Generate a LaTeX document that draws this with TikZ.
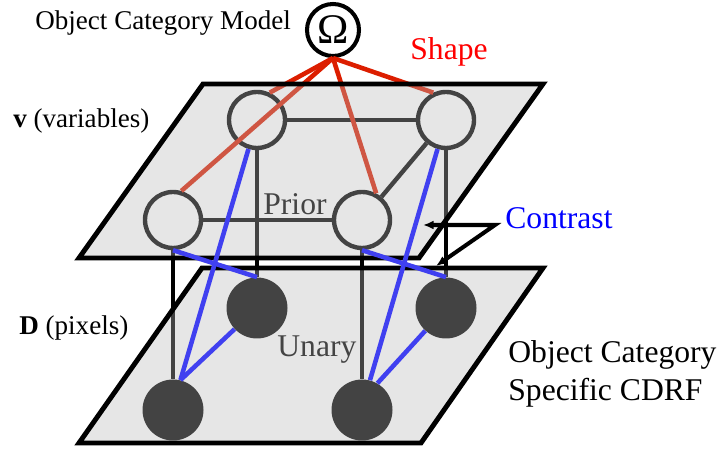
\documentclass[tikz,border=0pt]{standalone}
\usepackage{fontspec}
\setmainfont{Liberation Serif}
\usetikzlibrary{arrows.meta}
\definecolor{edgered}{RGB}{220,30,0}
\definecolor{edgeblue}{RGB}{64,64,240}
\definecolor{planegray}{RGB}{186,186,186}
\definecolor{labelgray}{RGB}{68,68,68}

\begin{document}
\begin{tikzpicture}[
    var/.style={draw=black, line width=2.5pt, circle, minimum size=1.12cm, inner sep=0pt},
    pix/.style={fill=black, circle, minimum size=1.22cm, inner sep=0pt},
    priorline/.style={draw=black, line width=2.5pt},
    shapeline/.style={draw=edgered, line width=2.6pt},
    contrastline/.style={draw=edgeblue, line width=2.6pt},
    plane/.style={draw=black, line width=2.8pt, fill=planegray, fill opacity=0.365, line join=miter},
    lbl/.style={inner sep=0pt, anchor=base west},
    small/.style={font=\fontsize{15.4}{18}\selectfont},
    big/.style={font=\fontsize{18}{21.5}\selectfont}
]
            \useasboundingbox (0.00,0.00) rectangle (14.40,8.98);
            % variables (upper plane)
            \node[var] (vbl) at (5.14,6.58) {};
            \node[var] (vbr) at (8.92,6.58) {};
            \node[var] (vfl) at (3.46,4.58) {};
            \node[var] (vfr) at (7.24,4.58) {};
            % pixels (lower plane)
            \node[pix] (dbl) at (5.14,2.82) {};
            \node[pix] (dbr) at (8.92,2.82) {};
            \node[pix] (dfl) at (3.46,0.78) {};
            \node[pix] (dfr) at (7.24,0.78) {};
            \draw[priorline] (vbl) -- (vbr);
            \draw[priorline] (vfl) -- (vfr);
            \draw[priorline] (vbr) -- (vfr);
            \draw[priorline] (vbl) -- (dbl);
            \draw[priorline] (vbr) -- (dbr);
            \draw[priorline] (vfl) -- (dfl);
            \draw[priorline] (vfr) -- (dfr);
            % model
            \node[draw=black, fill=white, line width=2.3pt, circle, minimum size=1.04cm, inner sep=0pt, font=\fontsize{24}{26}\selectfont] (om) at (6.66,8.38) {Ω};
            \draw[shapeline] (om.south) -- (vbl.65);
            \draw[shapeline] (om.south) -- (vfl.74);
            \draw[shapeline] (om.south) -- (vfr.62);
            \draw[shapeline] (om.south) -- (vbr.115);
            % planes
            \draw[plane] (4.06,7.30) -- (10.86,7.30) -- (8.38,3.82) -- (1.58,3.82) -- cycle;
            \draw[plane] (4.04,3.62) -- (10.86,3.62) -- (8.42,0.12) -- (1.58,0.12) -- cycle;
            % contrast
            \draw[contrastline] (vbl) -- (dfl.76);
            \draw[contrastline] (dbl) -- (dfl.76);
            \draw[contrastline] (vfl.south) -- (dbl.north);
            \draw[contrastline] (vbr) -- (dfr.75);
            \draw[contrastline] (dbr) -- (dfr.60);
            \draw[contrastline] (vfr.south) -- (dbr.north);
            \coordinate (cfork) at (9.90,4.48);
            \coordinate (ctop) at (8.46,4.48);
            \coordinate (cbot) at (8.72,3.66);
            \draw[draw=black, line width=2.3pt, line join=miter, {Latex[length=6pt,width=5pt]}-{Latex[length=6pt,width=5pt]}] (ctop) -- (cfork) -- (cbot);
            % labels
            \node[lbl, small] (nmodel) at (0.70,8.38) {Object Category Model};
            \node[lbl, small] (nvar) at (0.26,6.42) {\textbf{v} (variables)};
            \node[lbl, small] (npix) at (0.38,2.28) {\textbf{D} (pixels)};
            \node[lbl, big, red] (nshape) at (8.20,7.78) {Shape};
            \node[lbl, big, blue] (ncontrast) at (10.10,4.40) {Contrast};
            \node[lbl, big, labelgray] (nprior) at (5.26,4.68) {Prior};
            \node[lbl, big, labelgray] (nunary) at (5.54,1.84) {Unary};
            \node[big, inner sep=0pt, anchor=north west, align=left] (ncdrf) at (10.16,2.18) {Object Category\\Specific CDRF};
        \end{tikzpicture}
\end{document}
